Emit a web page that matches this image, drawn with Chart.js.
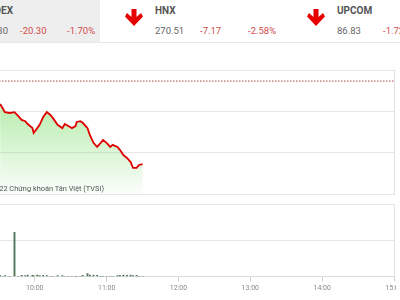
<!DOCTYPE html>
<html>
<head>
<meta charset="utf-8">
<script src="https://cdn.jsdelivr.net/npm/chart.js@4.4.0/dist/chart.umd.min.js"></script>
<style>
  html, body { margin: 0; padding: 0; }
  body { width: 400px; height: 300px; overflow: hidden; position: relative; background: #fff;
         font-family: Roboto, "Noto Sans", sans-serif; }
  .band { position: absolute; left: 0; top: 0; width: 100px; height: 42px; background: #eeeeee; }
  .rule { position: absolute; left: 0; top: 42px; width: 400px; height: 1px; background: #e8e8e8; }
  .t { position: absolute; line-height: 1; white-space: nowrap; }
  .name { font-weight: bold; font-size: 10px; color: #555; top: 6px; }
  .num { font-size: 9.5px; color: #666; top: 26px; }
  .down { color: #d24b4b; }
  .arrow { position: absolute; top: 9px; width: 18px; height: 17px; }
  #priceBox { position: absolute; left: -37px; top: 68px; width: 433px; height: 128px; }
  #volBox { position: absolute; left: -37px; top: 202px; width: 433px; height: 92px; }
  .credit { position: absolute; right: 296px; top: 185px; font-size: 7.4px; color: #555;
            white-space: nowrap; line-height: 1; }
</style>
</head>
<body>
<div class="band"></div>
<div class="rule"></div>

<span class="t name" style="right:387px">VNINDEX</span>
<span class="t num" style="right:392px">1,174.30</span>
<span class="t num down" style="left:20px">-20.30</span>
<span class="t num down" style="left:67px">-1.70%</span>
<svg class="arrow" style="left:125px" viewBox="0 0 18 17"><polygon fill="#e60000" points="6.5,0 11.5,0 11.5,8 16,4 18,7.5 9,17 0,7.5 2,4 6.5,8"/></svg>

<span class="t name" style="left:155px">HNX</span>
<span class="t num" style="left:155px">270.51</span>
<span class="t num down" style="left:200px">-7.17</span>
<span class="t num down" style="left:248px">-2.58%</span>
<svg class="arrow" style="left:307px" viewBox="0 0 18 17"><polygon fill="#e60000" points="6.5,0 11.5,0 11.5,8 16,4 18,7.5 9,17 0,7.5 2,4 6.5,8"/></svg>

<span class="t name" style="left:337px">UPCOM</span>
<span class="t num" style="left:337px">86.83</span>
<span class="t num down" style="left:383px">-1.72%</span>

<div id="priceBox"><canvas id="price"></canvas></div>
<div class="credit">© 2022 Chứng khoán Tân Việt (TVSI)</div>
<div id="volBox"><canvas id="volume"></canvas></div>

<script>
  // VN-Index intraday, morning session
  var times = ["09:31", "09:33", "09:35", "09:39", "09:43", "09:46", "09:49", "09:52", "09:54", "09:58",
    "09:59", "10:02", "10:04", "10:07", "10:10", "10:13", "10:15", "10:19", "10:23", "10:25",
    "10:28", "10:31", "10:34", "10:35", "10:38", "10:40", "10:44", "10:46", "10:49", "10:52",
    "10:55", "10:57", "11:00", "11:03", "11:05", "11:09", "11:11", "11:14", "11:17", "11:20",
    "11:22", "11:25", "11:27", "11:30"];
  var prices = [1189.0, 1188.0, 1187.0, 1186.8, 1187.0, 1186.1, 1185.1, 1184.8, 1184.1, 1183.1,
    1181.9, 1183.1, 1183.9, 1185.8, 1187.0, 1186.3, 1185.6, 1183.9, 1183.1, 1184.1,
    1183.6, 1183.1, 1183.6, 1184.6, 1184.8, 1184.4, 1183.1, 1181.4, 1179.5, 1178.5,
    1179.5, 1180.2, 1179.5, 1178.5, 1179.0, 1178.5, 1177.8, 1176.5, 1175.8, 1174.8,
    1173.4, 1173.4, 1174.1, 1174.3];
  var volumes = [30000, 0, 25000, 0, 1220000, 0, 35000, 30000, 40000, 35000,
    30000, 40000, 30000, 35000, 30000, 0, 0, 30000, 25000, 0,
    0, 0, 0, 0, 0, 35000, 80000, 40000, 45000, 35000,
    0, 0, 0, 0, 0, 30000, 35000, 40000, 35000, 40000,
    30000, 35000, 0, 0];
  var refPrice = 1194.6;
  var priceGrid = [1167.0, 1177.1, 1187.2, 1197.3];
  var volumeGrid = [0, 1000000, 2000000];
  var timeTicks = ["09:00", "10:00", "11:00", "12:00", "13:00", "14:00", "15:00"];

  function toMinutes(hhmm) {
    var p = hhmm.split(":");
    return (+p[0]) * 60 + (+p[1]);
  }
  function toLabel(mins) {
    var h = Math.floor(mins / 60), m = mins % 60;
    return (h < 10 ? "0" : "") + h + ":" + (m < 10 ? "0" : "") + m;
  }
  var tMin = toMinutes(timeTicks[0]);
  var tMax = toMinutes(timeTicks[timeTicks.length - 1]);

  function series(values) {
    return times.map(function (t, i) { return { x: toMinutes(t), y: values[i] }; });
  }
  function fixedTicks(list) {
    return function (scale) {
      scale.ticks = list.map(function (v) { return { value: v }; });
    };
  }

  Chart.defaults.font.family = "Roboto, 'Noto Sans', sans-serif";
  Chart.defaults.animation = false;

  new Chart(document.getElementById("price"), {
    type: "line",
    data: {
      datasets: [{
        data: series(prices),
        borderColor: "#e00000",
        borderWidth: 1.8,
        pointRadius: 0,
        tension: 0,
        fill: "start",
        backgroundColor: function (context) {
          var area = context.chart.chartArea;
          if (!area) {
            return "rgba(100,215,80,0.3)";
          }
          var g = context.chart.ctx.createLinearGradient(0, area.top, 0, area.bottom);
          g.addColorStop(0, "rgba(100,215,80,0.62)");
          g.addColorStop(1, "rgba(100,215,80,0.03)");
          return g;
        }
      }, {
        data: [{ x: tMin, y: refPrice }, { x: tMax, y: refPrice }],
        borderColor: "#b04848",
        borderWidth: 1,
        borderDash: [1.5, 1.5],
        pointRadius: 0,
        fill: false
      }]
    },
    options: {
      responsive: true,
      maintainAspectRatio: false,
      layout: { padding: { top: 2, bottom: 2, left: 0, right: 2 } },
      plugins: { legend: { display: false }, tooltip: { enabled: false } },
      scales: {
        x: { type: "linear", min: tMin, max: tMax, display: false },
        y: {
          position: "right",
          min: priceGrid[0],
          max: priceGrid[priceGrid.length - 1],
          afterBuildTicks: fixedTicks(priceGrid),
          ticks: { display: false },
          grid: { color: "#e6e6e6", drawTicks: false },
          border: { display: true, color: "#e2e2e2" }
        }
      }
    }
  });

  new Chart(document.getElementById("volume"), {
    type: "bar",
    data: {
      datasets: [{
        data: series(volumes),
        backgroundColor: "#4f7356",
        barThickness: 1.2
      }]
    },
    options: {
      responsive: true,
      maintainAspectRatio: false,
      layout: { padding: { top: 2, bottom: 0, left: 0, right: 2 } },
      plugins: { legend: { display: false }, tooltip: { enabled: false } },
      scales: {
        x: {
          type: "linear",
          offset: false,
          min: tMin,
          max: tMax,
          afterBuildTicks: fixedTicks(timeTicks.map(toMinutes)),
          afterFit: function (scale) { scale.paddingLeft = 0; scale.paddingRight = 0; },
          ticks: {
            autoSkip: false,
            maxRotation: 0,
            padding: 2,
            color: "#888",
            font: { size: 7 },
            callback: function (v) { return toLabel(v); }
          },
          grid: { offset: false, drawOnChartArea: false, drawTicks: true, tickLength: 5, color: "#d0d0d0" },
          border: { display: true, color: "#dcdcdc" }
        },
        y: {
          position: "right",
          min: volumeGrid[0],
          max: volumeGrid[volumeGrid.length - 1],
          afterBuildTicks: fixedTicks(volumeGrid),
          ticks: { display: false },
          grid: { color: "#e6e6e6", drawTicks: false },
          border: { display: true, color: "#e2e2e2" }
        }
      }
    }
  });
</script>
</body>
</html>
